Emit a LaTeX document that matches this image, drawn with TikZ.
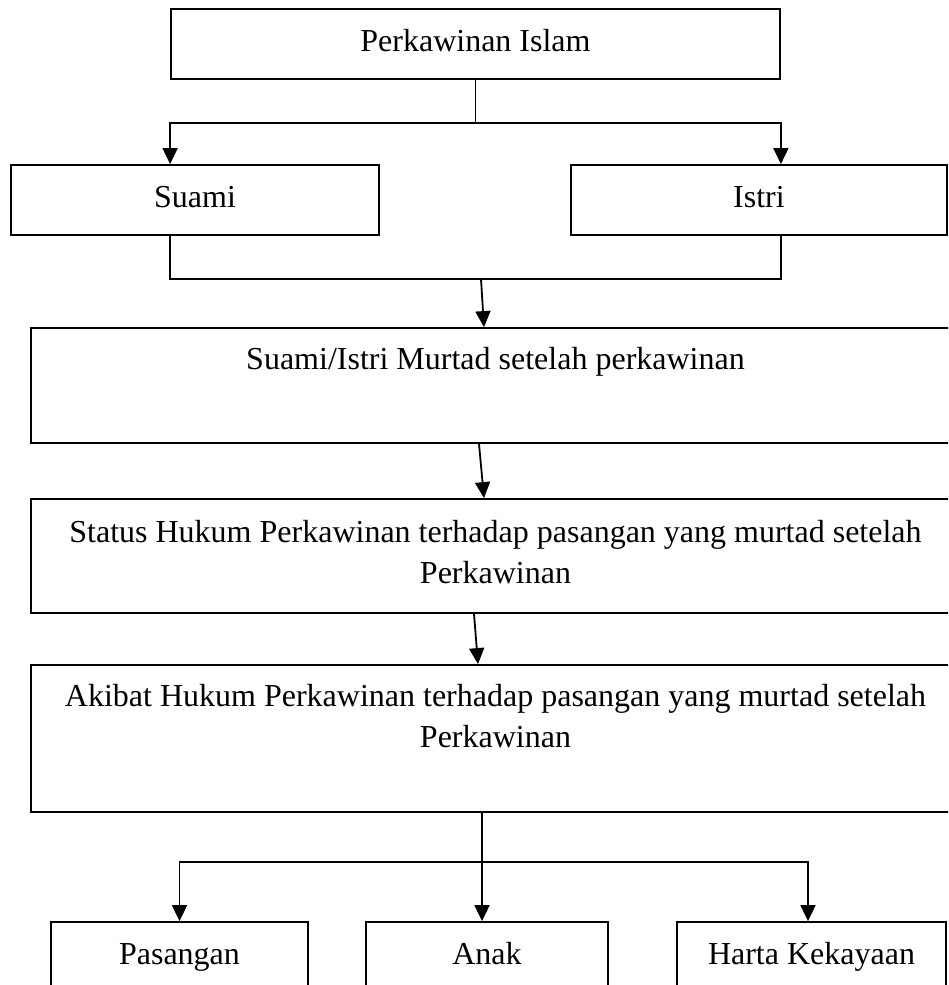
\documentclass[tikz,border=0pt]{standalone}
\usepackage{fontspec}
\setmainfont{Liberation Serif}
\usetikzlibrary{arrows.meta}

\tikzset{
    kotak/.style={draw, inner sep=0pt, align=center},
    satu/.style={text height=22pt, text depth=7pt},
    atas/.style={anchor=north, inner sep=0pt, yshift=-19pt, align=center},
    panah/.style={-{Triangle[length=16pt,width=15pt]}}
}

\begin{document}
\begin{tikzpicture}[x=1pt, y=-1pt, line width=1.8pt, font=\fontsize{32}{41}\selectfont]
    \clip (0,0) rectangle (948,985);
    \path node[kotak, satu, minimum width=609pt, minimum height=70pt] (PI) at (475.5,44) {Perkawinan Islam}
        node[kotak, satu, minimum width=368pt, minimum height=70pt] (S) at (195,200) {Suami}
        node[kotak, satu, minimum width=376pt, minimum height=70pt] (I) at (759,200) {Istri}
        node[kotak, minimum width=929pt, minimum height=115pt,
             label={[atas]north:Suami/Istri Murtad setelah perkawinan}] (SM) at (495.5,385.5) {}
        node[kotak, text depth=9pt, minimum width=929pt, minimum height=114pt] (ST) at (495.5,556)
             {Status Hukum Perkawinan terhadap pasangan yang murtad setelah\\ Perkawinan}
        node[kotak, minimum width=929pt, minimum height=147pt,
             label={[atas]north:Akibat Hukum Perkawinan terhadap pasangan yang murtad setelah\\ Perkawinan}] (AK) at (495.5,738.5) {}
        node[kotak, satu, minimum width=257pt, minimum height=70pt] (PA) at (179.5,957) {Pasangan}
        node[kotak, satu, minimum width=242pt, minimum height=70pt] (AN) at (487,957) {Anak}
        node[kotak, satu, minimum width=269pt, minimum height=70pt] (HK) at (811.5,957) {Harta Kekayaan};
    \coordinate (j1) at (475.5,123);
    \coordinate (j2) at (481,279);
    \coordinate (j3) at (482,862);
    \draw (PI.south) -- (j1);
    \draw[panah] (j1) -| (S.north -| PI.west);
    \draw[panah] (j1) -| (I.north -| PI.east);
    \draw (S.south -| PI.west) |- (j2) -| (I.south -| PI.east);
    \draw[panah] (j2) -- ([xshift=-11.5pt]SM.north);
    \draw[panah] ([xshift=-16.5pt]SM.south) -- ([xshift=-11.5pt]ST.north);
    \draw[panah] ([xshift=-21.5pt]ST.south) -- ([xshift=-17.5pt]AK.north);
    \draw (AK.south -| j3) -- (j3);
    \draw[panah] (j3) -| (PA.north);
    \draw[panah] (j3) -- (AN.north -| j3);
    \draw[panah] (j3) -| ([xshift=-3.5pt]HK.north);
\end{tikzpicture}
\end{document}
